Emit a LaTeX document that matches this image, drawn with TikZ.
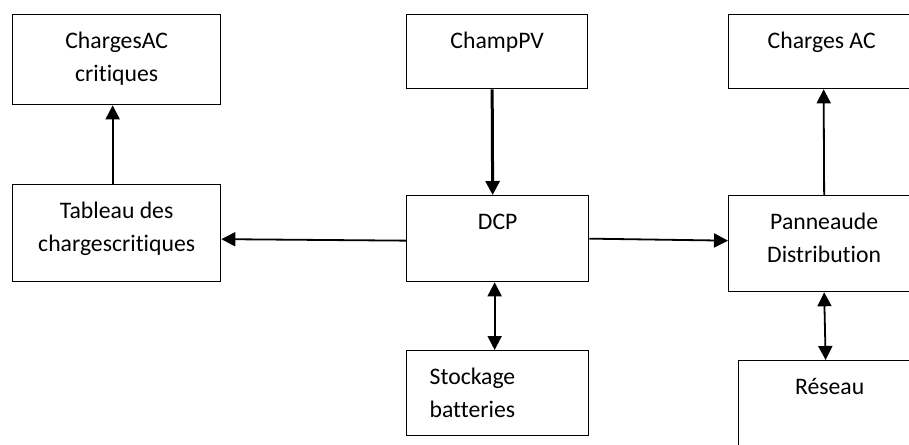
\documentclass[tikz,border=0pt]{standalone}
\usepackage{fontspec}
\setmainfont{Carlito}[Ligatures=NoCommon]
\usepackage{tikz}
\usetikzlibrary{arrows.meta,positioning}

\begin{document}
\begin{tikzpicture}[
  x=1pt, y=-1pt,
  every node/.style = {font=\fontsize{23.7}{33}\selectfont},
  box/.style   = {draw, line width=1.3pt, anchor=north west, align=center,
                  inner xsep=0pt, inner ysep=0pt, text height=34pt},
  box2/.style  = {box, text height=67pt},
  arr/.style   = {-{Triangle[length=14pt,width=14pt]}, line width=1.8pt},
  biarr/.style = {{Triangle[length=14pt,width=14pt]}-{Triangle[length=14pt,width=14pt]},
                  line width=1.8pt},
]
\useasboundingbox (0,0) rectangle (909,444);

%% ---------- CHARGES CRITIQUES ----------
\node[box2, minimum width=208pt, text depth=23pt] (crit) at (12,14)  {ChargesAC\\critiques};
\node[box2, minimum width=208pt, text depth=30pt] (tabl) at (12,184) {Tableau des\\chargescritiques};

\draw[arr]([xshift=-4pt]tabl.north)--([xshift=-4pt]crit.south);

%% ---------- CHAMP PV / DCP ----------
\node[box, minimum width=181pt, text depth=40pt] (champ) at (406,14)  {ChampPV};
\node[box, minimum width=182pt, text depth=52pt] (dcp)   at (406,195) {DCP};
\node[box, align=left, inner xsep=23pt, text width=136pt, text depth=51pt]
      (stock) at (406,350) {Stockage\\batteries};

\draw[arr, line width=3pt]([xshift=-5pt]champ.south)--([xshift=-5pt]dcp.north);
\draw[biarr]([xshift=-3pt]dcp.south)--([xshift=-3pt]stock.south |- stock.north);

%% ---------- DISTRIBUTION ----------
\node[box, minimum width=186pt, text depth=40pt] (chac)   at (728,14)  {Charges AC};
\node[box2, minimum width=191pt, text depth=29pt] (pann)  at (728,195) {Panneaude\\Distribution};
\node[box, minimum width=182pt, text depth=70pt] (reseau) at (738,360) {Réseau};

\draw[arr](pann.north)--([xshift=2pt]chac.south);
\draw[biarr](pann.south)--([xshift=-4pt]reseau.north);

%% liaisons DCP
\draw[arr]([yshift=-2pt]dcp.west)--([yshift=-6pt]tabl.east);
\draw[arr](dcp.east)--([yshift=3pt]pann.west);

\end{tikzpicture}
\end{document}
